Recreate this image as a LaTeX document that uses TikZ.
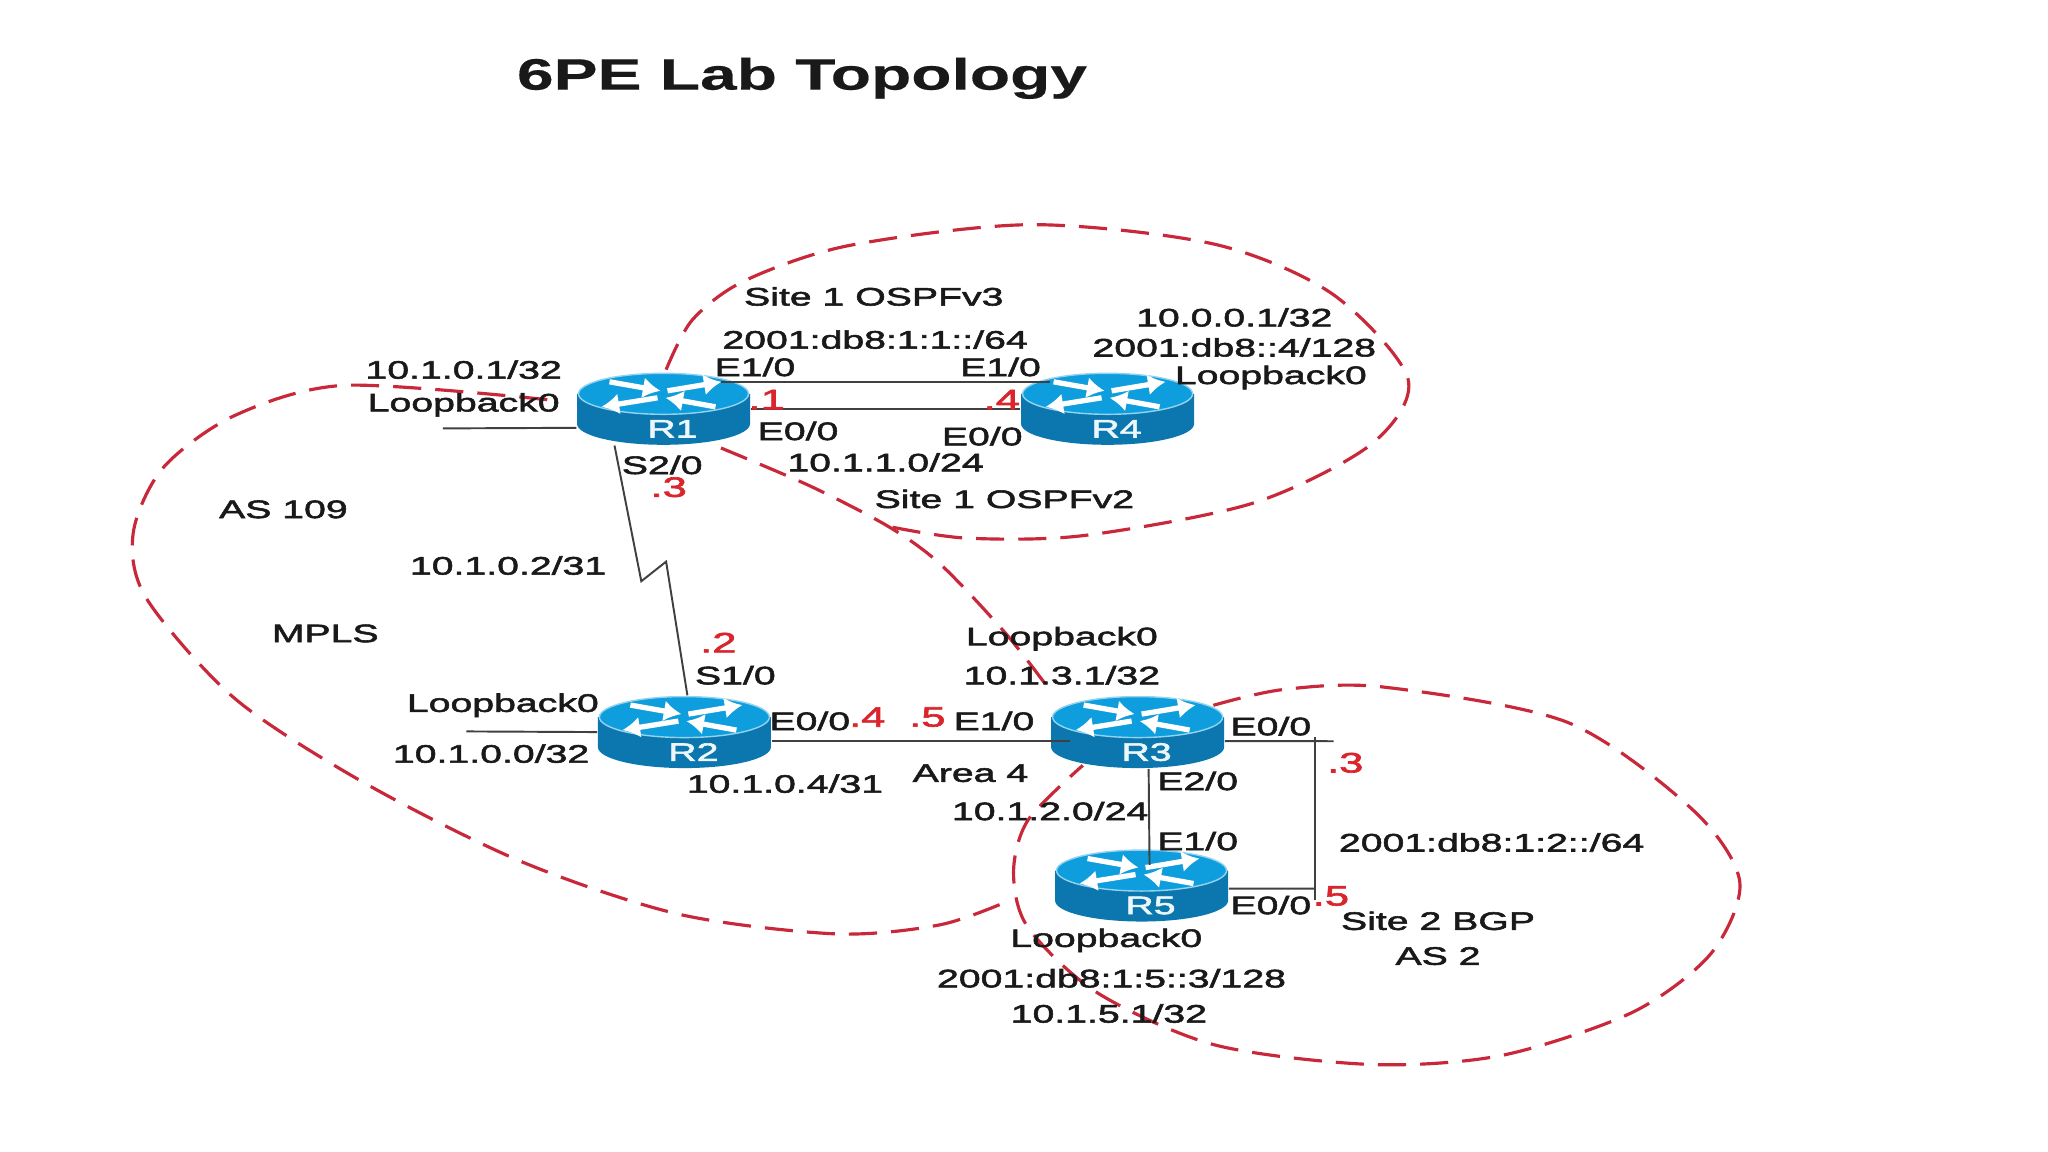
\documentclass[tikz,border=0pt]{standalone}
\usepackage{xcolor}
\usepackage{fontspec}
\setmainfont[FakeStretch=1.55,FakeBold=2.2]{Liberation Sans}
\newfontfamily\titlefont[FakeStretch=1.5,FakeBold=0.4]{Liberation Sans Bold}
\usetikzlibrary{arrows.meta,calc}
\definecolor{routertop}{HTML}{0E9EDE}
\definecolor{routerside}{HTML}{0B77AE}
\definecolor{zonered}{HTML}{C9283A}
\definecolor{dotred}{HTML}{D9252B}

\begin{document}
\begin{tikzpicture}[
  x=0.01306cm, y=-0.01306cm,
  lbl/.style={font=\fontsize{7.2}{9}\selectfont, text=black!90, inner sep=0pt},
  dot/.style={font=\fontsize{8}{9}\selectfont, text=dotred, inner sep=0pt},
  link/.style={draw=black!75, line width=0.55pt},
  zone/.style={draw=zonered, line width=0.9pt, dash pattern=on 8pt off 4pt},
  wing/.style={draw=white, line width=1.5pt, -{Latex[length=5pt,width=6pt]}},
  router/.style={minimum width=1.73cm, minimum height=0.72cm, inner sep=0pt,
    label={[font=\fontsize{7.2}{8}\selectfont, text=white!92!routertop, xshift=0.09cm, yshift=-0.2cm]center:#1},
    path picture={
      \begin{scope}[shift={(path picture bounding box.center)}]
        \fill[routerside] (-0.865cm,0.15cm) -- (-0.865cm,-0.15cm)
          arc (180:360:0.865cm and 0.21cm) -- (0.865cm,0.15cm) -- cycle;
        \fill[routertop, draw=white!55!routertop, line width=0.4pt] (0cm,0.15cm) ellipse (0.85cm and 0.205cm);
        \draw[wing] (-0.54cm,0.27cm) -- (-0.03cm,0.18cm);
        \draw[wing] (0.04cm,0.18cm) -- (0.58cm,0.27cm);
        \draw[wing] (-0.06cm,0.11cm) -- (-0.62cm,0.02cm);
        \draw[wing] (0.52cm,0.02cm) -- (0.02cm,0.11cm);
      \end{scope}
    }}
]
\path[use as bounding box, fill=white] (0,0) rectangle (1568,882);

\node[font=\titlefont\fontsize{12.5}{16}\selectfont, text=black!90, inner sep=0pt] (title) at (614,60) {6PE Lab Topology};

% zones
\draw[zone] plot[smooth] coordinates {(510,283) (530,245) (570,215) (650,188) (790,172) (930,187) (1020,225) (1078,290) (1050,340) (960,385) (830,410) (740,412) (680,403)};
\draw[zone] plot[smooth] coordinates {(552,343) (620,372) (680,403) (720,432) (770,485) (805,530)};
\draw[zone] plot[smooth] coordinates {(419,306) (264,295) (180,318) (125,358) (102,408) (112,458) (180,535) (280,600) (400,660) (520,700) (640,715) (720,708) (774,689)};
\draw[zone] plot[smooth] coordinates {(929,540) (982,528) (1059,526) (1200,553) (1296,620) (1332,675) (1310,730) (1250,775) (1150,808) (1050,815) (930,800) (840,760) (787,710) (776,668) (787,628) (829,586)};

% routers
\node[router=R1] (R1) at (508,313) {};
\node[router=R4] (R4) at (848,313) {};
\node[router=R2] (R2) at (524,560.5) {};
\node[router=R3] (R3) at (871,560.5) {};
\node[router=R5] (R5) at (874,678) {};

% free ends
\coordinate (loR1) at (339,328);
\coordinate (loR2) at (357,560);
\coordinate (swTop) at (1007,564);
\coordinate (swEnd) at (1021,567.5);
\coordinate (swBot) at (1007,689);
\coordinate (swJoin) at (1007,680.3);

% links
\draw[link] ([xshift=-0.3cm,yshift=0.27cm]R1.east) -- ([xshift=0.3cm,yshift=0.27cm]R4.west);
\draw[link] (R1.east) -- (R4.west);
\draw[link] (loR1) -- ([yshift=-0.19cm]R1.west);
\draw[link] (loR2) -- (R2.west);
\draw[link] ([xshift=-0.49cm]R1.south) -- (491,445) -- (510,430) -- ([xshift=0.03cm]R2.north);
\draw[link] ([yshift=-0.09cm]R2.east) -- ([xshift=0.2cm,yshift=-0.09cm]R3.west);
\draw[link] ([yshift=-0.09cm]R3.east) -- (swEnd);
\draw[link] (swTop) -- (swBot);
\draw[link] ([yshift=-0.03cm]R5.east) -- (swJoin);
\draw[link] ([xshift=0.11cm]R3.south) -- ([xshift=0.08cm,yshift=-0.16cm]R5.north);

% labels
\node[lbl] (site1v3) at (669,227) {Site 1 OSPFv3};
\node[lbl] (net1v6) at (670,260) {2001:db8:1:1::/64};
\node[lbl] (e10R1) at (578,281) {E1/0};
\node[lbl] (e10R4) at (766,281) {E1/0};
\node[dot] (dotR1a) at (587,306) {.1};
\node[dot] (dotR4a) at (767,306) {.4};
\node[lbl] (e00R1) at (611,330) {E0/0};
\node[lbl] (e00R4) at (752,334) {E0/0};
\node[lbl] (net1v4) at (678,354) {10.1.1.0/24};
\node[lbl] (site1v2) at (769,382) {Site 1 OSPFv2};
\node[lbl] (ipR4) at (945,243) {10.0.0.1/32};
\node[lbl] (ip6R4) at (945,266) {2001:db8::4/128};
\node[lbl] (loopR4) at (973,289) {Loopback0};
\node[lbl] (ipR1) at (355,283) {10.1.0.1/32};
\node[lbl] (loopR1) at (355,310) {Loopback0};
\node[lbl] (s20R1) at (507,356) {S2/0};
\node[dot] (dotR1b) at (512,373) {.3};
\node[lbl] (as109) at (217,390) {AS 109};
\node[lbl] (netSer) at (389,433) {10.1.0.2/31};
\node[lbl] (mpls) at (249,485) {MPLS};
\node[dot] (dotR2a) at (550,492) {.2};
\node[lbl] (s10R2) at (563,517) {S1/0};
\node[lbl] (loopR2) at (385,540) {Loopback0};
\node[lbl] (ipR2) at (376,577) {10.1.0.0/32};
\node[lbl] (e00R2) at (620,552) {E0/0};
\node[dot] (dotR2b) at (664,549) {.4};
\node[dot] (dotR3a) at (710,549) {.5};
\node[lbl] (e10R3) at (761,552) {E1/0};
\node[lbl] (loopR3) at (813,489) {Loopback0};
\node[lbl] (ipR3) at (813,517) {10.1.3.1/32};
\node[lbl] (e00R3) at (973,556) {E0/0};
\node[dot] (dotR3b) at (1030,584) {.3};
\node[lbl] (area4) at (743,592) {Area 4};
\node[lbl] (netR2R3) at (601,600) {10.1.0.4/31};
\node[lbl] (e20R3) at (917,598) {E2/0};
\node[lbl] (netR3R5) at (804,621) {10.1.2.0/24};
\node[lbl] (e10R5) at (917,644) {E1/0};
\node[lbl] (net2v6) at (1142,645) {2001:db8:1:2::/64};
\node[lbl] (e00R5) at (973,693) {E0/0};
\node[dot] (dotR5) at (1019,686) {.5};
\node[lbl] (site2) at (1101,705) {Site 2 BGP};
\node[lbl] (as2) at (1101,732) {AS 2};
\node[lbl] (loopR5) at (847,720) {Loopback0};
\node[lbl] (ip6R5) at (851,749) {2001:db8:1:5::3/128};
\node[lbl] (ipR5) at (849,776) {10.1.5.1/32};

\end{tikzpicture}
\end{document}
